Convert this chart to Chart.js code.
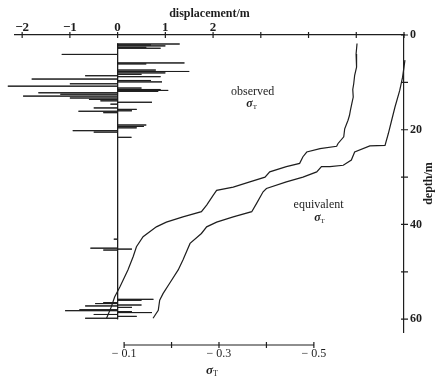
<!DOCTYPE html>
<html>
<head>
<meta charset="utf-8">
<script src="https://cdn.jsdelivr.net/npm/chart.js@4.4.0/dist/chart.umd.min.js"></script>
<style>
  html, body { margin: 0; padding: 0; background: #fff; }
  #wrap { width: 438px; height: 376px; }
</style>
</head>
<body>
<div id="wrap"><canvas id="sigmaChart" width="438" height="376"></canvas></div>
<script>
// displacement spikes: depth (m) and displacement (m)
var spikeDepths = [1.9, 2.1, 2.3, 2.6, 2.8, 4.1, 5.9, 6.1, 7.4, 7.7, 8.0, 8.3, 8.6, 8.8, 9.3, 9.6, 9.9,
    10.3, 10.8, 11.2, 11.5, 11.7, 11.9, 12.2, 12.5, 12.9, 13.3, 13.6, 13.9, 14.2, 14.6, 15.4, 15.7,
    16.0, 16.1, 16.4, 19.0, 19.3, 19.6, 20.2, 20.5, 21.6, 43.1, 45.0, 45.2, 45.4, 55.8, 56.0, 56.5,
    56.7, 57.0, 57.2, 57.5, 58.0, 58.2, 58.4, 58.6, 59.0, 59.4, 59.8];
var spikeValues = [1.3, 0.7, 1.0, 0.6, 0.9, -1.17, 1.4, 0.6, 0.8, 1.5, 1.0, 0.5, -0.68, 0.9, -1.8, 0.7, 0.93,
    -1.0, -2.3, 0.5, 0.9, 1.06, 0.85, -1.66, -1.2, -1.98, -1.0, -0.6, -0.36, 0.72, -0.15, -0.5, 0.4,
    0.3, -0.82, -0.3, 0.6, 0.55, 0.4, -0.94, -0.5, 0.29, -0.08, -0.57, 0.3, -0.3, 0.75, 0.5, -0.3,
    -0.47, 0.5, -0.68, 0.3, -0.8, -1.1, 0.3, 0.72, -0.5, 0.4, -0.68];
var baseTop = 1.8, baseBottom = 60;

// observed sigma_T profile
var obsDepths = [1.8, 4.0, 6.8, 8.5, 10.3, 11.5, 13.1, 14.5, 15.9, 17.0, 18.0, 19.8, 21.5, 22.9, 23.5,
    24.0, 24.7, 25.7, 27.1, 27.8, 28.9, 30.0, 31.0, 32.1, 32.8, 33.8, 35.9, 37.3, 38.4, 39.5, 40.5,
    42.6, 44.7, 46.8, 49.6, 53.2, 55.3, 57.4, 59.8];
var obsSigma = [-0.591, -0.589, -0.590, -0.586, -0.584, -0.582, -0.583, -0.580, -0.577, -0.575, -0.572,
    -0.565, -0.563, -0.551, -0.548, -0.513, -0.485, -0.477, -0.470, -0.442, -0.407, -0.397, -0.365,
    -0.330, -0.295, -0.288, -0.274, -0.263, -0.224, -0.189, -0.168, -0.140, -0.126, -0.119, -0.108,
    -0.091, -0.080, -0.073, -0.063];

// equivalent sigma_T profile
var eqDepths = [2.2, 5.3, 8.9, 11.7, 15.2, 18.0, 20.8, 23.3, 23.4, 24.7, 26.4, 27.5, 27.8, 27.8, 28.9,
    30.0, 31.0, 32.4, 33.1, 35.6, 37.3, 38.4, 39.5, 40.5, 41.9, 44.0, 47.5, 49.6, 52.4, 54.6, 56.0,
    58.1, 59.8];
var eqSigma = [-0.694, -0.692, -0.687, -0.681, -0.671, -0.664, -0.657, -0.650, -0.618, -0.586, -0.579,
    -0.562, -0.534, -0.516, -0.506, -0.477, -0.442, -0.400, -0.393, -0.379, -0.369, -0.330, -0.295,
    -0.274, -0.263, -0.239, -0.224, -0.214, -0.196, -0.182, -0.175, -0.172, -0.161];

// axis ticks
var dispTicks = [-2, -1, 0, 1, 2, 3, 4, 5, 6];
var dispLabels = {'-2': '−2', '-1': '−1', '0': '0', '1': '1', '2': '2'};
var depthTicks = [0, 10, 20, 30, 40, 50, 60];
var depthLabels = {'0': '0', '20': '20', '40': '40', '60': '60'};
var sigmaTicks = [-0.1, -0.2, -0.3, -0.4, -0.5];
var sigmaLabels = {'-0.1': '− 0.1', '-0.3': '− 0.3', '-0.5': '− 0.5'};

var SERIF = "'Liberation Serif', 'DejaVu Serif', serif";
var INK = '#1e1e1e';

// spikes go out from the zero line and back
var spikePoints = [{x: 0, y: baseTop}];
spikeDepths.forEach(function(d, i) {
    spikePoints.push({x: 0, y: d});
    spikePoints.push({x: spikeValues[i], y: d});
    spikePoints.push({x: 0, y: d});
});
spikePoints.push({x: 0, y: baseBottom});

var toPoints = function(xs, ys) {
    return xs.map(function(v, i) { return {x: v, y: ys[i]}; });
};

var drawSigmaT = function(ctx, cx, cy, size) {
    ctx.save();
    ctx.fillStyle = INK;
    ctx.textBaseline = 'alphabetic';
    ctx.font = 'italic bold ' + size + 'px ' + SERIF;
    var w1 = ctx.measureText('σ').width;
    ctx.font = Math.round(size * 0.62) + 'px ' + SERIF;
    var w2 = ctx.measureText('T').width;
    var left = cx - (w1 + w2) / 2;
    ctx.font = 'italic bold ' + size + 'px ' + SERIF;
    ctx.textAlign = 'left';
    ctx.fillText('σ', left, cy);
    ctx.font = Math.round(size * 0.62) + 'px ' + SERIF;
    ctx.fillText('T', left + w1, cy + 2);
    ctx.restore();
};

var extraPlugin = {
    id: 'extraText',
    afterDraw: function(chart) {
        var ctx = chart.ctx;
        var sx = chart.scales.x, sy = chart.scales.y, ss = chart.scales.xs;
        ctx.save();
        ctx.strokeStyle = INK;
        ctx.lineWidth = 1.2;
        ctx.beginPath();
        // crossing tick marks on top and right axes
        dispTicks.forEach(function(v) {
            var px = sx.getPixelForValue(v);
            ctx.moveTo(px, sx.bottom - 3);
            ctx.lineTo(px, sx.bottom + 3);
        });
        depthTicks.forEach(function(v) {
            var py = sy.getPixelForValue(v);
            ctx.moveTo(sy.left - 3, py);
            ctx.lineTo(sy.left + 4, py);
        });
        // short sigma axis below the plot
        var yLine = ss.top + 13;
        ctx.moveTo(ss.getPixelForValue(sigmaTicks[0]), yLine);
        ctx.lineTo(ss.getPixelForValue(sigmaTicks[sigmaTicks.length - 1]), yLine);
        sigmaTicks.forEach(function(v) {
            var px = ss.getPixelForValue(v);
            ctx.moveTo(px, yLine - 3);
            ctx.lineTo(px, yLine + 3);
        });
        ctx.stroke();
        ctx.restore();
        drawSigmaT(ctx, ss.getPixelForValue(-0.3) - 7, ss.bottom - 2, 13);

        // depth axis title, reading upward
        ctx.save();
        ctx.fillStyle = INK;
        ctx.font = 'bold 12px ' + SERIF;
        ctx.textAlign = 'center';
        ctx.textBaseline = 'middle';
        ctx.translate(sy.right - 9, (sy.top + sy.bottom) / 2);
        ctx.rotate(-Math.PI / 2);
        ctx.fillText('depth/m', 0, 0);
        ctx.restore();

        // curve names
        ctx.save();
        ctx.fillStyle = INK;
        ctx.font = '12px ' + SERIF;
        ctx.textAlign = 'center';
        ctx.textBaseline = 'middle';
        ctx.fillText('observed', sx.getPixelForValue(2.83), sy.getPixelForValue(11.9));
        ctx.fillText('equivalent', sx.getPixelForValue(4.21), sy.getPixelForValue(35.9));
        ctx.restore();
        drawSigmaT(ctx, sx.getPixelForValue(2.81), sy.getPixelForValue(14.3) + 4, 12);
        drawSigmaT(ctx, sx.getPixelForValue(4.23), sy.getPixelForValue(38.5) + 4, 12);
    }
};

var ctx = document.getElementById('sigmaChart').getContext('2d');
var sigmaChart = new Chart(ctx, {
    type: 'line',
    data: {
        datasets: [{
            label: 'displacement',
            data: spikePoints,
            xAxisID: 'x',
            yAxisID: 'y',
            borderColor: INK,
            borderWidth: 1,
            pointRadius: 0,
            tension: 0,
            clip: false
        }, {
            label: 'observed',
            data: toPoints(obsSigma, obsDepths),
            xAxisID: 'xs',
            yAxisID: 'y',
            borderColor: INK,
            borderWidth: 1.2,
            pointRadius: 0,
            tension: 0,
            clip: false
        }, {
            label: 'equivalent',
            data: toPoints(eqSigma, eqDepths),
            xAxisID: 'xs',
            yAxisID: 'y',
            borderColor: INK,
            borderWidth: 1.2,
            pointRadius: 0,
            tension: 0,
            clip: false
        }]
    },
    options: {
        responsive: false,
        animation: false,
        devicePixelRatio: 1,
        layout: {padding: {left: 15, right: 0, top: 0, bottom: 0}},
        plugins: {legend: {display: false}, tooltip: {enabled: false}},
        scales: {
            x: {
                type: 'linear',
                position: 'top',
                min: -2.15,
                max: 6,
                afterBuildTicks: function(s) { s.ticks = dispTicks.map(function(v) { return {value: v}; }); },
                afterFit: function(s) { s.height = 35; },
                ticks: {
                    color: INK,
                    font: {family: SERIF, size: 13, weight: 'bold'},
                    padding: 0,
                    maxRotation: 0,
                    callback: function(v) { return dispLabels[String(v)] || ''; }
                },
                grid: {drawOnChartArea: false, drawTicks: false},
                border: {color: INK, width: 1.2},
                title: {
                    display: true,
                    text: 'displacement/m',
                    color: INK,
                    font: {family: SERIF, size: 12, weight: 'bold'},
                    padding: {top: 7, bottom: 0}
                }
            },
            y: {
                type: 'linear',
                position: 'right',
                reverse: true,
                min: 0,
                max: 62.7,
                afterBuildTicks: function(s) { s.ticks = depthTicks.map(function(v) { return {value: v}; }); },
                afterFit: function(s) { s.width = 34; },
                ticks: {
                    color: INK,
                    font: {family: SERIF, size: 12, weight: 'bold'},
                    padding: 6,
                    callback: function(v) { return depthLabels[String(v)] || ''; }
                },
                grid: {drawOnChartArea: false, drawTicks: false},
                border: {color: INK, width: 1.2}
            },
            xs: {
                type: 'linear',
                position: 'bottom',
                axis: 'x',
                reverse: true,
                min: -0.69,
                max: 0.13,
                afterBuildTicks: function(s) { s.ticks = sigmaTicks.map(function(v) { return {value: v}; }); },
                afterFit: function(s) { s.height = 44; },
                ticks: {
                    color: INK,
                    font: {family: SERIF, size: 12},
                    padding: 15,
                    maxRotation: 0,
                    autoSkip: false,
                    callback: function(v) { return sigmaLabels[String(v)] || ''; }
                },
                grid: {display: false, drawTicks: false},
                border: {display: false}
            }
        }
    },
    plugins: [extraPlugin]
});
</script>
</body>
</html>
